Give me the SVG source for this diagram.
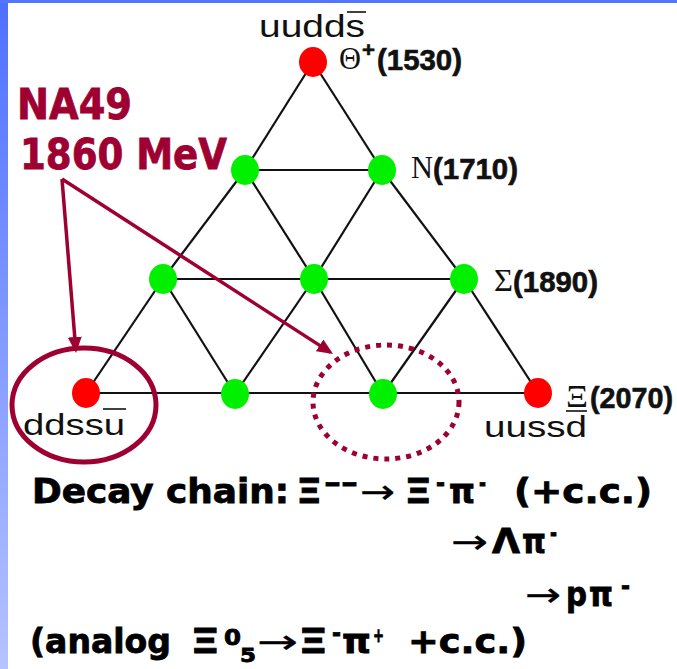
<svg xmlns="http://www.w3.org/2000/svg" width="677" height="669" viewBox="0 0 677 669">
  <style>
    .edge { stroke: #111; stroke-width: 2.2; fill: none; }
    .red { fill: #ff0000; }
    .green { fill: #00f000; }
    .quark { font-family: "Liberation Sans", Arial, sans-serif; fill: #111; }
    .greek { font-family: "Liberation Serif", "Times New Roman", serif; fill: #111; }
    .mass { font-family: "Liberation Sans", Arial, sans-serif; font-weight: bold; fill: #111; stroke: #111; stroke-width: 0.6; }
    .bar { stroke: #111; stroke-width: 1.6; }
    .comic { font-family: "DejaVu Sans", "Open Sans", sans-serif; font-weight: bold; }
    .note { fill: #9e0031; stroke: #9e0031; stroke-width: 0.8; }
    .chain text { fill: #000; stroke: #000; stroke-width: 0.8; }
    .chain text.arrow { stroke-width: 0.3; font-weight: normal; }
    .pointer { stroke: #9e0031; stroke-width: 3.5; fill: none; }
  </style>
  <defs>
    <linearGradient id="sidebar" x1="0" y1="0" x2="0" y2="1">
      <stop offset="0" stop-color="#4e70ff"/>
      <stop offset="1" stop-color="#b6c3ff"/>
    </linearGradient>
    <marker id="head" viewBox="0 0 16 14" refX="13" refY="7" markerWidth="16" markerHeight="14" markerUnits="userSpaceOnUse" orient="auto">
      <path d="M0,0 L16,7 L0,14 z" fill="#9e0031"/>
    </marker>
  </defs>

  <!-- slide background and frame -->
  <rect x="0" y="0" width="677" height="669" fill="#ffffff"/>
  <rect x="0" y="0" width="8" height="669" fill="url(#sidebar)"/>
  <rect x="0" y="0" width="677" height="3" fill="#5276ff"/>

  <!-- lattice lines -->
  <g id="connectors">
    <line class="edge" x1="313" y1="62" x2="245" y2="170"/>
    <line class="edge" x1="313" y1="62" x2="382" y2="170"/>
    <line class="edge" x1="245" y1="170" x2="382" y2="170"/>
    <line class="edge" x1="245" y1="170" x2="163" y2="279"/>
    <line class="edge" x1="245" y1="170" x2="314" y2="279"/>
    <line class="edge" x1="382" y1="170" x2="314" y2="279"/>
    <line class="edge" x1="382" y1="170" x2="464" y2="279"/>
    <line class="edge" x1="163" y1="279" x2="464" y2="279"/>
    <line class="edge" x1="163" y1="279" x2="86" y2="393"/>
    <line class="edge" x1="163" y1="279" x2="235" y2="394"/>
    <line class="edge" x1="314" y1="279" x2="235" y2="394"/>
    <line class="edge" x1="314" y1="279" x2="383" y2="394"/>
    <line class="edge" x1="464" y1="279" x2="383" y2="394"/>
    <line class="edge" x1="464" y1="279" x2="538" y2="393"/>
    <line class="edge" x1="86" y1="393" x2="538" y2="393"/>
  </g>

  <!-- multiplet states -->
  <g id="theta">
    <ellipse class="red" cx="313" cy="62" rx="14" ry="15"/>
    <text class="quark" x="259" y="37" font-size="31" textLength="106" lengthAdjust="spacingAndGlyphs">uudds</text>
    <line class="bar" x1="347" y1="12" x2="366" y2="12"/>
    <text class="greek" x="339" y="69" font-size="31" textLength="22" lengthAdjust="spacingAndGlyphs">Θ</text>
    <text class="mass" x="362" y="57" font-size="21" textLength="13" lengthAdjust="spacingAndGlyphs">+</text>
    <text class="mass" x="377" y="70" font-size="29" textLength="85" lengthAdjust="spacingAndGlyphs">(1530)</text>
  </g>
  <g id="n-left"><ellipse class="green" cx="245" cy="170" rx="14" ry="15"/></g>
  <g id="n-right">
    <ellipse class="green" cx="382" cy="170" rx="14" ry="15"/>
    <text class="greek" x="411" y="178" font-size="31" textLength="22" lengthAdjust="spacingAndGlyphs">N</text>
    <text class="mass" x="433" y="179" font-size="29" textLength="85" lengthAdjust="spacingAndGlyphs">(1710)</text>
  </g>
  <g id="sigma-left"><ellipse class="green" cx="163" cy="279" rx="14" ry="15"/></g>
  <g id="sigma-mid"><ellipse class="green" cx="314" cy="279" rx="14" ry="15"/></g>
  <g id="sigma-right">
    <ellipse class="green" cx="464" cy="279" rx="14" ry="15"/>
    <text class="greek" x="494" y="291" font-size="31" textLength="19" lengthAdjust="spacingAndGlyphs">Σ</text>
    <text class="mass" x="513" y="292" font-size="29" textLength="85" lengthAdjust="spacingAndGlyphs">(1890)</text>
  </g>
  <g id="xi-minus-minus">
    <ellipse class="red" cx="86" cy="393" rx="14" ry="15"/>
    <text class="quark" x="23" y="435" font-size="29" textLength="102" lengthAdjust="spacingAndGlyphs">ddssu</text>
    <line class="bar" x1="103" y1="409" x2="126" y2="409"/>
  </g>
  <g id="xi-minus"><ellipse class="green" cx="235" cy="394" rx="14" ry="15"/></g>
  <g id="xi-zero"><ellipse class="green" cx="383" cy="394" rx="14" ry="15"/></g>
  <g id="xi-plus">
    <ellipse class="red" cx="538" cy="393" rx="14" ry="15"/>
    <text class="greek" x="566" y="407" font-size="31" textLength="22" lengthAdjust="spacingAndGlyphs">Ξ</text>
    <text class="mass" x="590" y="408" font-size="29" textLength="83" lengthAdjust="spacingAndGlyphs">(2070)</text>
    <text class="quark" x="484" y="437" font-size="29" textLength="103" lengthAdjust="spacingAndGlyphs">uussd</text>
    <line class="bar" x1="566" y1="411" x2="587" y2="411"/>
  </g>

  <!-- NA49 annotation -->
  <g id="na49">
    <text class="comic note" x="17" y="119" font-size="42" textLength="115" lengthAdjust="spacingAndGlyphs">NA49</text>
    <text class="comic note" x="20" y="169" font-size="42" textLength="207" lengthAdjust="spacingAndGlyphs">1860 MeV</text>
    <ellipse cx="84" cy="405" rx="72" ry="57" fill="none" stroke="#9e0031" stroke-width="5"/>
    <ellipse cx="386" cy="402" rx="73" ry="57" fill="none" stroke="#9e0031" stroke-width="5" stroke-dasharray="5 6"/>
  </g>
  <g id="pointers">
    <line class="pointer" x1="62" y1="179" x2="75.8" y2="350" marker-end="url(#head)"/>
    <line class="pointer" x1="62" y1="179" x2="330.5" y2="352.4" marker-end="url(#head)"/>
  </g>

  <!-- decay chain -->
  <g id="decay" class="comic chain">
    <text x="32" y="503" font-size="33" textLength="257" lengthAdjust="spacingAndGlyphs">Decay chain:</text>
    <text x="296" y="503" font-size="33" textLength="26" lengthAdjust="spacingAndGlyphs">Ξ</text>
    <text x="324" y="491" font-size="24" textLength="34" lengthAdjust="spacingAndGlyphs">--</text>
    <text class="arrow" x="360" y="503" font-size="33" textLength="35" lengthAdjust="spacingAndGlyphs">→</text>
    <text x="404" y="503" font-size="33" textLength="28" lengthAdjust="spacingAndGlyphs">Ξ</text>
    <text x="436" y="491" font-size="24" textLength="9" lengthAdjust="spacingAndGlyphs">-</text>
    <text x="449" y="503" font-size="33" textLength="26" lengthAdjust="spacingAndGlyphs">π</text>
    <text x="479" y="491" font-size="24" textLength="7" lengthAdjust="spacingAndGlyphs">-</text>
    <text x="514" y="503" font-size="33" textLength="138" lengthAdjust="spacingAndGlyphs">(+c.c.)</text>

    <text class="arrow" x="451" y="553" font-size="33" textLength="37" lengthAdjust="spacingAndGlyphs">→</text>
    <text x="492" y="553" font-size="33" textLength="28" lengthAdjust="spacingAndGlyphs">Λ</text>
    <text x="522" y="553" font-size="33" textLength="24" lengthAdjust="spacingAndGlyphs">π</text>
    <text x="550" y="541" font-size="24" textLength="7" lengthAdjust="spacingAndGlyphs">-</text>

    <text class="arrow" x="525" y="606" font-size="33" textLength="36" lengthAdjust="spacingAndGlyphs">→</text>
    <text x="566" y="606" font-size="33" textLength="21" lengthAdjust="spacingAndGlyphs">p</text>
    <text x="589" y="606" font-size="33" textLength="24" lengthAdjust="spacingAndGlyphs">π</text>
    <text x="621" y="594" font-size="24" textLength="9" lengthAdjust="spacingAndGlyphs">-</text>

    <text x="30" y="653" font-size="33" textLength="141" lengthAdjust="spacingAndGlyphs">(analog</text>
    <text x="190" y="653" font-size="33" textLength="30" lengthAdjust="spacingAndGlyphs">Ξ</text>
    <text x="224" y="645" font-size="22" textLength="17" lengthAdjust="spacingAndGlyphs">0</text>
    <text x="240" y="662" font-size="20" textLength="16" lengthAdjust="spacingAndGlyphs">5</text>
    <text class="arrow" x="257" y="653" font-size="33" textLength="41" lengthAdjust="spacingAndGlyphs">→</text>
    <text x="298" y="653" font-size="33" textLength="30" lengthAdjust="spacingAndGlyphs">Ξ</text>
    <text x="332" y="641" font-size="24" textLength="9" lengthAdjust="spacingAndGlyphs">-</text>
    <text x="342" y="653" font-size="33" textLength="29" lengthAdjust="spacingAndGlyphs">π</text>
    <text x="373" y="642" font-size="20" textLength="11" lengthAdjust="spacingAndGlyphs">+</text>
    <text x="408" y="653" font-size="33" textLength="119" lengthAdjust="spacingAndGlyphs">+c.c.)</text>
  </g>
</svg>
